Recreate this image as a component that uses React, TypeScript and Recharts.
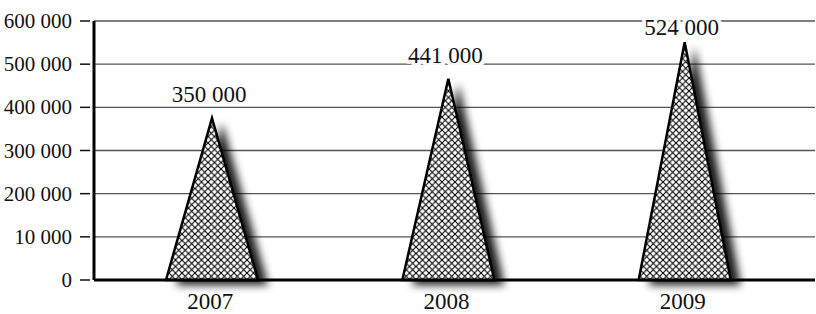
import React from 'react';
import { BarChart, Bar, XAxis, YAxis, CartesianGrid, LabelList } from 'recharts';

const years = ['2007', '2008', '2009'];
const values = [350000, 441000, 524000];
// heights of the triangle tips as drawn in the picture
const peaks = [375000, 466000, 551000];
const yTicks = [0, 100000, 200000, 300000, 400000, 500000, 600000];
const yTickLabels = ['0', '10 000', '200 000', '300 000', '400 000', '500 000', '600 000'];

const data = years.map((year, i) => ({ year, peak: peaks[i], value: values[i] }));

const FONT = 'Liberation Serif';

const fmt = (n: number) => String(n).replace(/\B(?=(\d{3})+(?!\d))/g, ' ');

const Triangle = (props: any) => {
  const { x, y, width, height } = props;
  const d = `M${x},${y + height} L${x + width / 2},${y} L${x + width},${y + height} Z`;
  return (
    <g>
      <path d={d} fill="#000" filter="url(#shade)" />
      <path d={d} fill="url(#hatch)" stroke="#000" strokeWidth={2.5} strokeLinejoin="miter" />
    </g>
  );
};

const YTick = (props: any) => {
  const { x, y, payload, index } = props;
  return (
    <g>
      <text x={x - 22} y={y} dy={7} textAnchor="end" fontFamily={FONT} fontSize={21} fill="#111">
        {yTickLabels[index] ?? payload.value}
      </text>
      <line x1={x - 14} x2={x - 4} y1={y} y2={y} stroke="#111" strokeWidth={1.5} />
    </g>
  );
};

const XTick = (props: any) => {
  const { x, y, payload } = props;
  return (
    <text x={x - 2} y={y} dy={29} textAnchor="middle" fontFamily={FONT} fontSize={23} fill="#111">
      {payload.value}
    </text>
  );
};

const ValueLabel = (props: any) => {
  const { x, y, width, value } = props;
  return (
    <text
      x={x + width / 2 - 3}
      y={Math.max(y - 16, 35)}
      textAnchor="middle"
      fontFamily={FONT}
      fontSize={23}
      fill="#111"
      stroke="#fff"
      strokeWidth={8}
      strokeOpacity={0.95}
      paintOrder="stroke"
      strokeLinejoin="round"
    >
      {fmt(value)}
    </text>
  );
};

export default function App() {
  return (
    <div style={{ width: 816, height: 314, background: '#fff' }}>
      <style>{`body{margin:0}`}</style>
      <BarChart width={816} height={314} data={data} margin={{ top: 21, right: 1, bottom: 4, left: 0 }}>
        <defs>
          <pattern id="hatch" width="6.5" height="6.5" patternUnits="userSpaceOnUse">
            <rect width="6.5" height="6.5" fill="#fff" />
            <path d="M0,0 L6.5,6.5 M6.5,0 L0,6.5" stroke="#000" strokeWidth={1.1} />
          </pattern>
          <filter id="shade" x="-30%" y="-10%" width="180%" height="130%">
            <feOffset in="SourceAlpha" dx={10} dy={5} result="off" />
            <feGaussianBlur in="off" stdDeviation={4} result="blur" />
            <feComponentTransfer in="blur">
              <feFuncA type="linear" slope={0.9} />
            </feComponentTransfer>
          </filter>
        </defs>
        <CartesianGrid vertical={false} stroke="#555" strokeWidth={1.4} />
        <XAxis
          dataKey="year"
          height={30}
          axisLine={{ stroke: '#000', strokeWidth: 3 }}
          tickLine={false}
          tickSize={0}
          tickMargin={0}
          padding={{ left: 0, right: 12 }}
          tick={<XTick />}
        />
        <YAxis
          domain={[0, 600000]}
          ticks={yTicks}
          width={94}
          interval={0}
          axisLine={{ stroke: '#000', strokeWidth: 3 }}
          tickLine={false}
          tickSize={0}
          tickMargin={0}
          tick={<YTick />}
        />
        <Bar dataKey="peak" barSize={92} shape={<Triangle />} isAnimationActive={false}>
          <LabelList dataKey="value" content={<ValueLabel />} />
        </Bar>
      </BarChart>
    </div>
  );
}
